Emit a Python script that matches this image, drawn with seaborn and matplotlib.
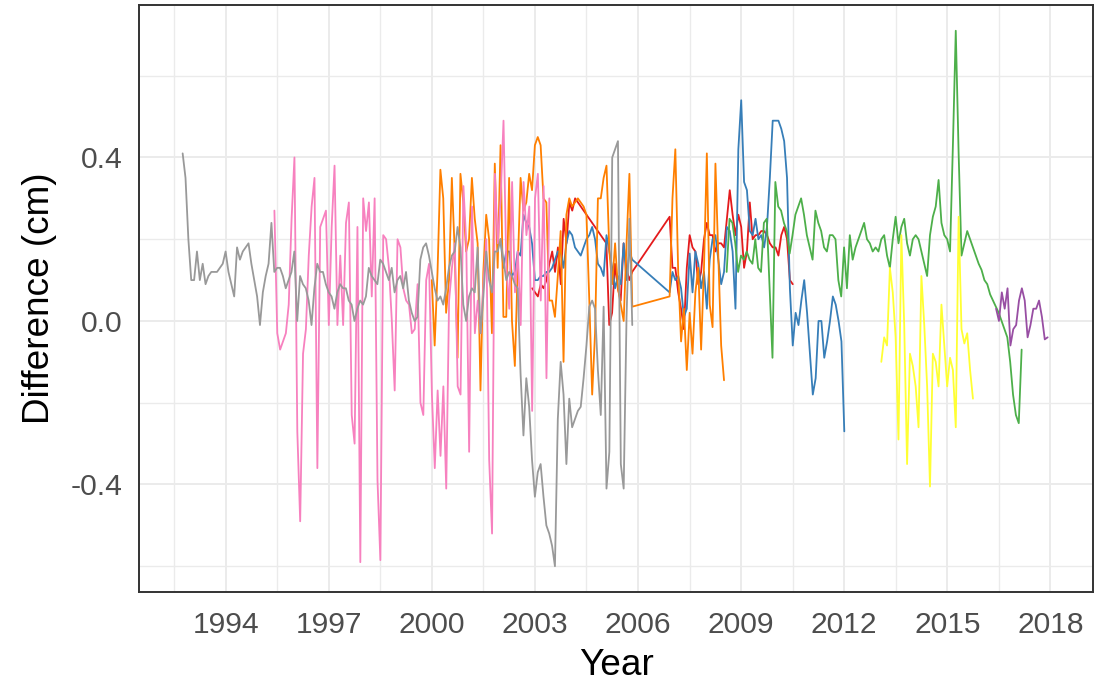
import numpy as np
import pandas as pd
import matplotlib
matplotlib.use("Agg")
import matplotlib.pyplot as plt
from matplotlib.ticker import FixedLocator, FixedFormatter
import seaborn as sns

# Monthly differences per station. Each series is a list of runs:
# (first year, monthly values). Runs of one station are joined by a straight line.
grey_runs = [(1992.75, [
    0.41, 0.35, 0.20,
    0.10, 0.10, 0.17, 0.10, 0.14, 0.09, 0.11, 0.12, 0.12, 0.12, 0.13, 0.14,
    0.17, 0.12, 0.09, 0.06, 0.18, 0.15, 0.17, 0.18, 0.19, 0.14, 0.10, 0.06,
    -0.01, 0.07, 0.11, 0.14, 0.24, 0.12, 0.13, 0.13, 0.11, 0.08, 0.10, 0.12,
    0.17, 0.00, 0.11, 0.09, 0.08, 0.05, -0.01, 0.08, 0.14, 0.12, 0.12, 0.09,
    0.07, 0.06, 0.03, 0.07, 0.09, 0.08, 0.08, 0.05, 0.04, 0.00, 0.03, 0.05,
    0.04, 0.06, 0.13, 0.11, 0.10, 0.09, 0.15, 0.14, 0.12, 0.10, 0.13, 0.07,
    0.10, 0.11, 0.08, 0.12, 0.05, 0.02, 0.00, 0.01, 0.15, 0.18, 0.19, 0.16,
    0.12, 0.08, 0.05, 0.06, 0.04, 0.08, 0.13, 0.16, 0.17, 0.23, 0.18, 0.04,
    0.00, 0.06, 0.08, 0.07, 0.18, -0.03, 0.06, 0.17, 0.10, 0.07, 0.17, 0.17,
    0.20, 0.15, 0.10, 0.12, 0.11, 0.09, 0.08, -0.13, -0.28, -0.14, -0.21, -0.34,
    -0.43, -0.37, -0.35, -0.43, -0.50, -0.52, -0.55, -0.60, -0.24, -0.10, -0.18, -0.35,
    -0.19, -0.26, -0.24, -0.22, -0.21, -0.14, -0.06, 0.035, 0.05, 0.03, -0.12, -0.23,
    0.035, -0.41, -0.32, 0.40, 0.42, 0.44, -0.35, -0.41, 0.01, 0.25, -0.01,
])]

pink_runs = [(1995.42, [
    0.27, -0.03, -0.07, -0.05, -0.03, 0.04, 0.25,
    0.40, -0.27, -0.49, -0.08, -0.02, 0.16, 0.28, 0.35, -0.36, 0.23, 0.25, 0.27,
    -0.01, 0.23, 0.38, -0.01, 0.16, -0.01, 0.24, 0.29, -0.23, -0.30, 0.23, -0.59,
    0.30, 0.22, 0.29, 0.06, 0.30, -0.39, -0.585, 0.21, 0.20, 0.13, 0.00, -0.17,
    0.20, 0.18, 0.08, 0.05, 0.04, -0.03, -0.02, 0.09, -0.20, -0.23, 0.10, 0.14,
    -0.18, -0.36, -0.17, -0.33, -0.16, -0.41, 0.05, 0.13, 0.19, -0.16, -0.18, 0.33,
    0.19, -0.32, 0.28, -0.03, 0.05, -0.03, 0.09, 0.20, -0.34, -0.52, 0.36, 0.19,
    0.30, 0.49, 0.13, 0.03, 0.34, 0.07, 0.17, -0.01, 0.34, 0.21, 0.28, -0.22,
    0.30, 0.36, 0.05, 0.33, -0.14, 0.30,
])]

orange_runs = [
    (2000.0, [
        0.10, -0.06, 0.12, 0.37, 0.30, 0.02, 0.10, 0.35, 0.17, -0.09, 0.36, 0.29,
        0.17, 0.20, 0.35, 0.25, 0.19, -0.17, 0.12, 0.26, 0.20, -0.03, 0.385, 0.13,
        0.43, 0.01, 0.01, 0.35, 0.00, -0.11, 0.13, 0.35, 0.27, 0.29, 0.36, 0.32,
        0.43, 0.45, 0.43, 0.30, 0.29, 0.05, 0.05, 0.01, 0.11, 0.22, -0.10, 0.26,
        0.30, 0.28, 0.29, 0.30, 0.29, 0.28, 0.26, 0.05, -0.18, -0.03, 0.30, 0.30,
        0.35, 0.38, 0.17, 0.09, 0.19, 0.08, 0.04, 0.00, 0.19, 0.36, 0.035,
    ]),
    (2006.92, [
        0.06, 0.30, 0.42, 0.12, -0.05, 0.03, -0.12, 0.02, -0.08, 0.07, 0.13, -0.07,
        0.13, 0.41, 0.04, -0.015, 0.385, 0.16, -0.06, -0.145,
    ]),
]

red_runs = [
    (2002.92, [0.08, 0.07, 0.06, 0.09, 0.08, 0.10, 0.14, 0.17, 0.12, 0.18, 0.09,
               0.25, 0.19, 0.29, 0.27, 0.30, 0.29]),
    (2005.08, [0.19, -0.01, 0.02, 0.14, 0.08, 0.05, 0.19, 0.13, 0.10, 0.12]),
    (2006.92, [
        0.255, 0.13, 0.13, 0.07, 0.03, -0.02, 0.13, 0.21, 0.18, 0.17, 0.09, 0.12, 0.20,
        0.24, 0.21, 0.21, 0.17, 0.19, 0.19, 0.18, 0.25, 0.32, 0.26, 0.21, 0.26,
        0.23, 0.13, 0.17, 0.29, 0.20, 0.21, 0.21, 0.22, 0.22, 0.21, 0.19, 0.18,
        0.18, 0.16, 0.21, 0.23, 0.20, 0.10, 0.09,
    ]),
]

blue_runs = [
    (2002.0, [
        0.20, 0.13, 0.17, 0.17, 0.11, 0.12, 0.17, 0.16, 0.26, 0.24, 0.23, 0.19,
        0.10, 0.10, 0.11, 0.11, 0.12, 0.12, 0.13, 0.15, 0.17, 0.17, 0.13, 0.19,
        0.22, 0.21, 0.18, 0.17, 0.16, 0.18, 0.20, 0.21, 0.23, 0.20, 0.14, 0.13,
        0.11, 0.21, 0.17, 0.13, 0.08, 0.11, 0.09, 0.19, 0.10, 0.17, 0.15,
    ]),
    (2006.92, [
        0.07,
        0.12, 0.10, 0.11, 0.08, 0.01, 0.03, 0.165, 0.07, 0.17, 0.14, 0.08, 0.12,
        0.03, 0.15, 0.20, 0.21, 0.15, 0.09, 0.12, 0.23, 0.22, 0.17, 0.03, 0.42,
        0.54, 0.34, 0.32, 0.22, 0.21, 0.25, 0.20, 0.21, 0.18, 0.23, 0.35, 0.49,
        0.49, 0.49, 0.47, 0.44, 0.35, 0.08, -0.06, 0.02, -0.01, 0.05, 0.10, 0.02,
        -0.08, -0.18, -0.14, 0.00, 0.00, -0.09, -0.05, 0.00, 0.06, 0.04, 0.00, -0.05,
        -0.27,
    ]),
]

green_runs = [(2008.58, [
    0.12, 0.25, 0.24, 0.19, 0.12,
    0.16, 0.15, 0.17, 0.15, 0.14, 0.20, 0.13, 0.12, 0.24, 0.25, 0.08, -0.09,
    0.34, 0.28, 0.27, 0.24, 0.22, 0.165, 0.21, 0.26, 0.28, 0.30, 0.26, 0.21,
    0.18, 0.15, 0.27, 0.24, 0.22, 0.18, 0.17, 0.21, 0.21, 0.20, 0.10, 0.06,
    0.18, 0.08, 0.21, 0.15, 0.18, 0.20, 0.22, 0.24, 0.20, 0.19, 0.17, 0.18,
    0.17, 0.20, 0.21, 0.16, 0.13, 0.20, 0.255, 0.19, 0.23, 0.25, 0.19, 0.16,
    0.20, 0.21, 0.20, 0.17, 0.14, 0.11, 0.21, 0.255, 0.28, 0.345, 0.24, 0.21,
    0.20, 0.17, 0.43, 0.71, 0.41, 0.16, 0.19, 0.22, 0.20, 0.18, 0.16, 0.14,
    0.125, 0.10, 0.09, 0.065, 0.05, 0.035, 0.02, 0.00, -0.02, -0.04, -0.10, -0.18,
    -0.23, -0.25, -0.07,
])]

yellow_runs = [(2013.08, [
    -0.10, -0.04, -0.06, 0.13, 0.07, -0.04, -0.29, 0.21, -0.01, -0.35, -0.08,
    -0.11, -0.16, -0.26, 0.11, -0.01, -0.16, -0.405, -0.08, -0.10, -0.16, 0.04, -0.06,
    -0.16, -0.09, -0.12, -0.26, 0.255, -0.02, -0.055, -0.03, -0.12, -0.19,
])]

purple_runs = [(2016.42, [
    0.03, 0.00, 0.07, 0.03, 0.08, -0.06, -0.02, -0.01, 0.05, 0.08, 0.05, -0.04,
    -0.01, 0.03, 0.03, 0.05, 0.01, -0.045, -0.04,
])]

# drawing order follows the Set1 order of the stations (later ones on top)
stations = {
    "S1": ("#E41A1C", red_runs),
    "S2": ("#377EB8", blue_runs),
    "S3": ("#4DAF4A", green_runs),
    "S4": ("#984EA3", purple_runs),
    "S5": ("#FF7F00", orange_runs),
    "S6": ("#FFFF33", yellow_runs),
    "S7": ("#F781BF", pink_runs),
    "S8": ("#999999", grey_runs),
}

x_ticks = [1994, 1997, 2000, 2003, 2006, 2009, 2012, 2015, 2018]
y_ticks = [-0.4, 0.0, 0.4]
y_tick_labels = ["-0.4", "0.0", "0.4"]

frames = []
for name, (_, runs) in stations.items():
    for start, vals in runs:
        yrs = start + np.arange(len(vals)) / 12.0
        frames.append(pd.DataFrame({"Year": yrs, "Difference": vals, "Station": name}))
df = pd.concat(frames, ignore_index=True)
palette = {k: v[0] for k, v in stations.items()}

sns.set_theme(style="white")
plt.rcParams["font.family"] = ["Liberation Sans", "DejaVu Sans"]

fig = plt.figure(figsize=(11.07, 6.88), dpi=100)
ax = fig.add_axes([139 / 1107, 1 - 592 / 688, (1093 - 139) / 1107, (592 - 5) / 688])

sns.lineplot(data=df, x="Year", y="Difference", hue="Station",
             hue_order=list(stations.keys()), palette=palette,
             estimator=None, linewidth=1.3, legend=False, ax=ax)

ax.set_xlim(1991.48, 2019.24)
ax.set_ylim(-0.663, 0.773)

ax.xaxis.set_major_locator(FixedLocator(x_ticks))
ax.xaxis.set_major_formatter(FixedFormatter([str(t) for t in x_ticks]))
ax.xaxis.set_minor_locator(FixedLocator([t - 1.5 for t in x_ticks]))
ax.yaxis.set_major_locator(FixedLocator(y_ticks))
ax.yaxis.set_major_formatter(FixedFormatter(y_tick_labels))
ax.yaxis.set_minor_locator(FixedLocator([-0.6, -0.2, 0.2, 0.6]))

ax.grid(which="major", color="#EBEBEB", linewidth=1.4)
ax.grid(which="minor", color="#EBEBEB", linewidth=1.0)
ax.set_axisbelow(True)

for sp in ax.spines.values():
    sp.set_color("#333333")
    sp.set_linewidth(1.4)

ax.tick_params(which="major", direction="out", length=5, width=1.4, color="#333333",
               labelsize=21.6, labelcolor="#4D4D4D")
ax.tick_params(axis="x", which="major", pad=9)
ax.tick_params(axis="y", which="major", pad=7)
ax.tick_params(which="minor", length=0)

ax.set_xlabel("Year", fontsize=26.6, color="black", labelpad=6)
ax.set_ylabel("Difference (cm)", fontsize=26.6, color="black", labelpad=10)

fig.savefig("out.png", dpi=100)
